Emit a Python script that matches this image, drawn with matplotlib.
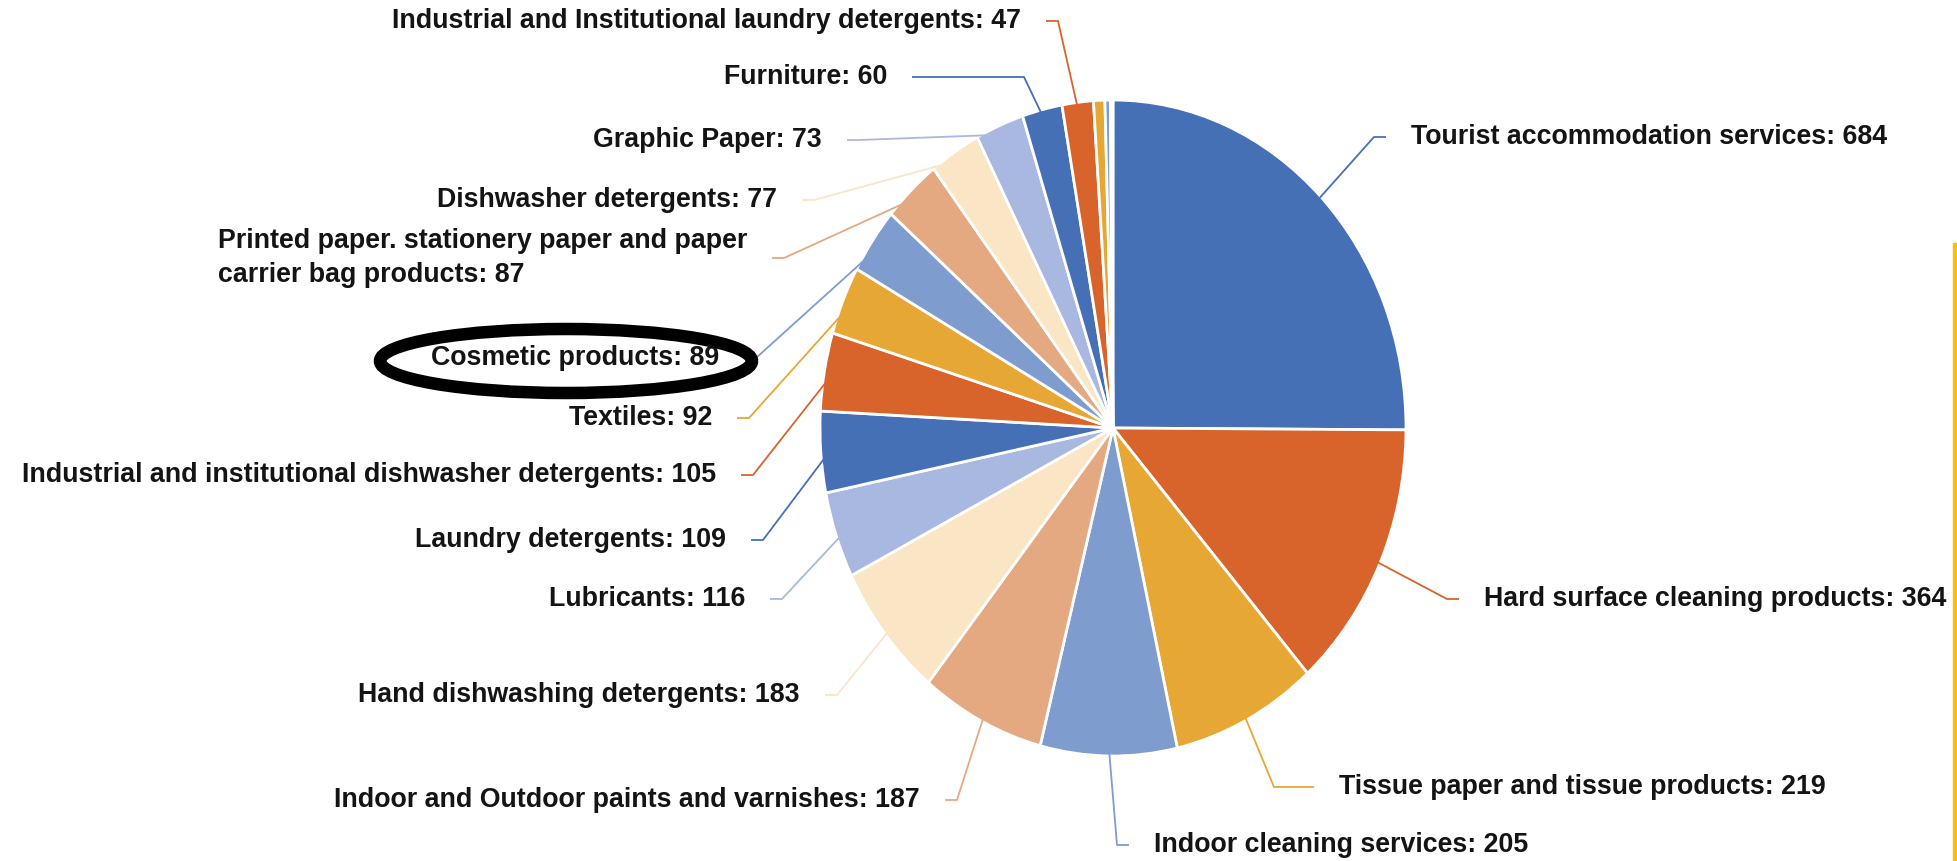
import matplotlib
matplotlib.use('Agg')
import matplotlib.pyplot as plt
from matplotlib.patches import Ellipse, Rectangle
import numpy as np

plt.rcParams['font.family'] = ['Liberation Sans', 'DejaVu Sans']

# slices, clockwise from 12 o'clock
categories = [
    'Tourist accommodation services',
    'Hard surface cleaning products',
    'Tissue paper and tissue products',
    'Indoor cleaning services',
    'Indoor and Outdoor paints and varnishes',
    'Hand dishwashing detergents',
    'Lubricants',
    'Laundry detergents',
    'Industrial and institutional dishwasher detergents',
    'Textiles',
    'Cosmetic products',
    'Printed paper. stationery paper and paper\ncarrier bag products',
    'Dishwasher detergents',
    'Graphic Paper',
    'Furniture',
    'Industrial and Institutional laundry detergents',
    '', '', '',
]
values = [684, 364, 219, 205, 187, 183, 116, 109, 105, 92, 89, 87, 77, 73, 60, 47, 17, 8, 4]

palette = ['#4670B6', '#D8642C', '#E6A735', '#7F9CCF', '#E5A981', '#FAE5C5', '#A9B8E0']
colors = [palette[i % len(palette)] for i in range(len(values))]

# label anchors in pixels (x, y, side)
label_x = [1411, 1484, 1339, 1154, 920, 800, 745, 726, 716, 712, 719, 747, 777, 822, 887, 1021]
label_y = [137, 599, 787, 845, 800, 695, 599, 540, 475, 418, 358, 258, 200, 140, 77, 21]
label_side = ['left'] * 4 + ['right'] * 12
stub_len = {2: 40, 14: 112}

W, H = 1957, 861
cx, cy = 1113, 428      # pie centre (px)
rx, ry = 293, 328       # pie is drawn a bit taller than wide

fig = plt.figure(figsize=(W / 100, H / 100), dpi=100)

ax = fig.add_axes([0, 0, 1, 1])
wedges, _ = ax.pie(values, colors=colors, startangle=90, counterclock=False, radius=1,
                   wedgeprops=dict(edgecolor='white', linewidth=2))
ax.set_aspect('auto')
ax.set_xlim(-cx / rx, (W - cx) / rx)
ax.set_ylim(-(H - cy) / ry, cy / ry)
ax.axis('off')

ov = fig.add_axes([0, 0, 1, 1])
ov.set_xlim(0, W)
ov.set_ylim(H, 0)
ov.axis('off')
ov.patch.set_alpha(0)

def to_px(theta, r):
    t = np.deg2rad(theta)
    return cx + rx * r * np.cos(t), cy - ry * r * np.sin(t)

for i in range(len(label_x)):
    w = wedges[i]
    mid = (w.theta1 + w.theta2) / 2
    x, y, side = label_x[i], label_y[i], label_side[i]
    txt = categories[i] + ': ' + str(values[i])
    ov.text(x, y, txt, ha=side, va='center', fontsize=19.3, fontweight='bold',
            color='#141414', multialignment='left', linespacing=1.35, zorder=3)
    gap = 25
    stub = stub_len.get(i, 12)
    sgn = -1 if side == 'left' else 1
    p0 = (x + sgn * gap, y)
    p1 = (x + sgn * (gap + stub), y)
    p2 = to_px(mid, 0.97)
    ov.plot([p0[0], p1[0], p2[0]], [p0[1], p1[1], p2[1]], color=colors[i], lw=1.3,
            solid_capstyle='butt', zorder=2)

# hand-drawn highlight round the cosmetic label
ov.add_patch(Ellipse((566, 361), 372, 64, fill=False, edgecolor='black', lw=9, zorder=4))

# yellow strip at the right edge
ov.add_patch(Rectangle((1953, 243), 4, H - 243, color='#FFC000', zorder=5, clip_on=False))

fig.savefig('out.png', dpi=100)
